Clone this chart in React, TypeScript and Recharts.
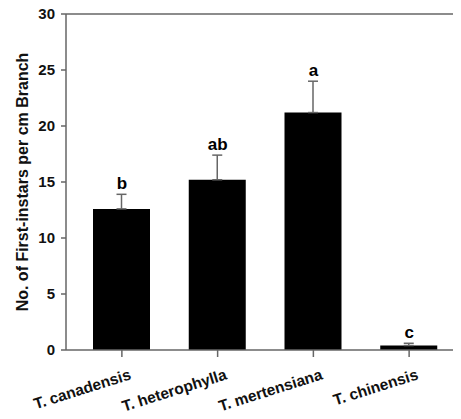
import { ComposedChart, Bar, Line, XAxis, YAxis, ErrorBar, ReferenceLine, LabelList } from 'recharts';

const categories = ["T. canadensis", "T. heterophylla", "T. mertensiana", "T. chinensis"];
const means = [12.6, 15.2, 21.2, 0.4];
const errors = [1.3, 2.2, 2.8, 0.2];
const letters = ["b", "ab", "a", "c"];
const yTicks = [0, 5, 10, 15, 20, 25, 30];

const data = categories.map((name, i) => ({
  name,
  mean: means[i],
  err: [0, errors[i]],
  top: means[i] + errors[i],
  letter: letters[i],
}));

const FONT = '"Liberation Sans", Arial, sans-serif';
const AXIS = "#666";

const XTick = (props: any) => {
  const { x, y, payload } = props;
  return (
    <g transform={`translate(${x + 10},${y + 22}) rotate(-17.5)`}>
      <text x={0} y={0} textAnchor="end" fontFamily={FONT} fontWeight="bold" fontSize={15.5} fill="#111">
        {payload.value}
      </text>
    </g>
  );
};

const YLabel = (props: any) => {
  const { viewBox } = props;
  const cx = 22;
  const cy = viewBox.y + viewBox.height / 2;
  return (
    <text x={cx} y={cy} transform={`rotate(-90, ${cx}, ${cy})`} textAnchor="middle" dominantBaseline="central"
      fontFamily={FONT} fontWeight="bold" fontSize={16} fill="#111">
      No. of First-instars per cm Branch
    </text>
  );
};

const Letter = (props: any) => {
  const { x, y, value } = props;
  return (
    <text x={x} y={y - 5} textAnchor="middle" fontFamily={FONT} fontWeight="bold" fontSize={17} fill="#000">
      {value}
    </text>
  );
};

export default function App() {
  return (
    <div style={{ width: 461, height: 419, margin: -8, background: "#fff" }}>
      <ComposedChart width={461} height={419} data={data} margin={{ top: 14, right: 0, bottom: 9, left: 0 }}>
        <XAxis dataKey="name" stroke={AXIS} strokeWidth={1.5} tickSize={7} tickMargin={0}
          padding={{ left: 8, right: 4 }} height={60} interval={0} tick={<XTick />} />
        <YAxis domain={[0, 30]} ticks={yTicks} stroke={AXIS} strokeWidth={1.5} tickSize={5} tickMargin={6} width={66}
          tick={{ fontFamily: FONT, fontWeight: "bold", fontSize: 15, fill: "#111" }}
          label={<YLabel />} />
        <ReferenceLine y={30} stroke={AXIS} strokeWidth={1.5} />
        <Bar dataKey="mean" fill="#000" barSize={57} isAnimationActive={false}>
          <ErrorBar dataKey="err" width={5} stroke={AXIS} strokeWidth={1.5} />
        </Bar>
        <Line dataKey="top" stroke="none" dot={false} activeDot={false} isAnimationActive={false}>
          <LabelList dataKey="letter" content={<Letter />} />
        </Line>
      </ComposedChart>
    </div>
  );
}
